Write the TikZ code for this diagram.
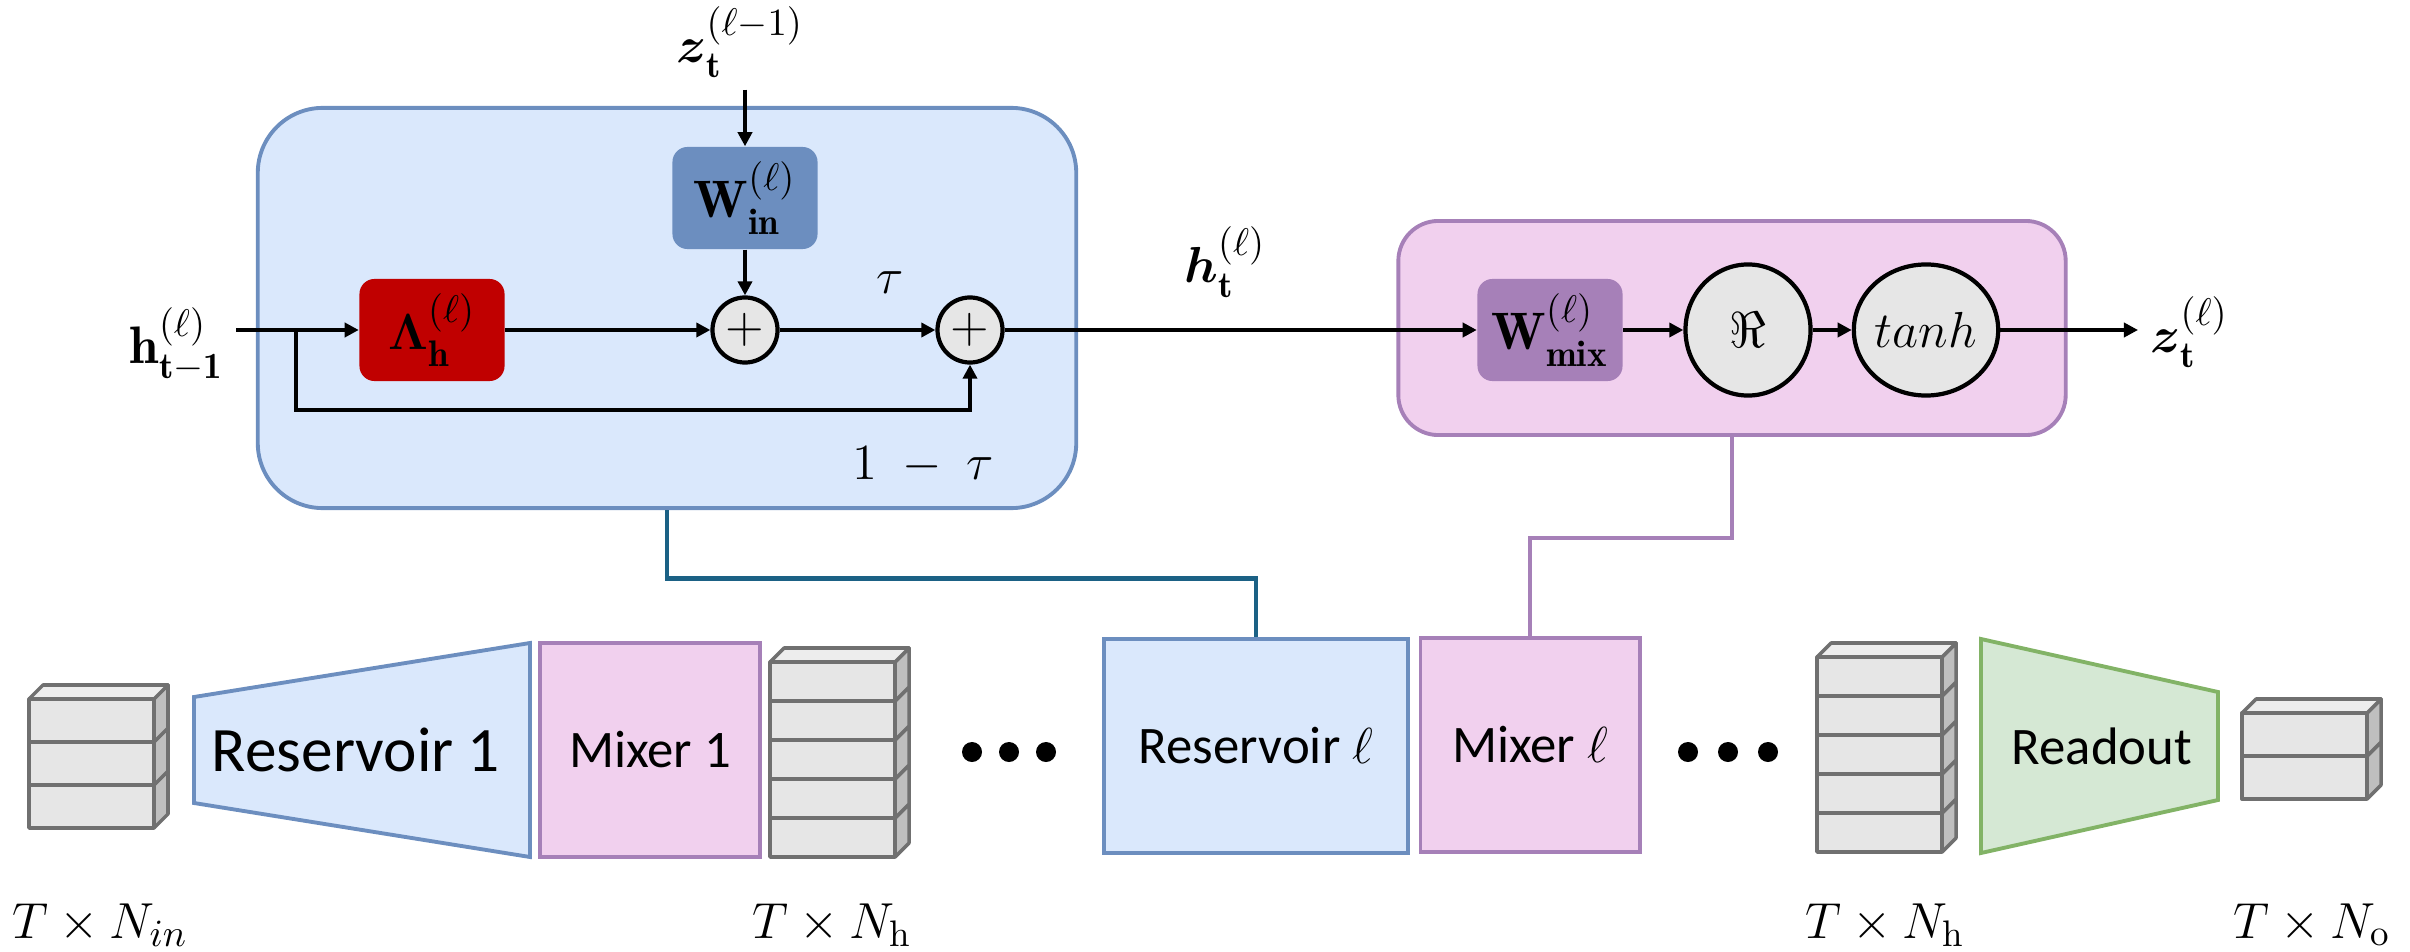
\documentclass[tikz,border=0pt]{standalone}
\usepackage{amsmath,amssymb}
\usepackage{fontspec}
\newfontfamily\calibri{Carlito}
\usetikzlibrary{arrows.meta,shapes.geometric}

\definecolor{resfill}{HTML}{DAE8FC}
\definecolor{resline}{HTML}{6C8EBF}
\definecolor{mixfill}{HTML}{F1D0EE}
\definecolor{mixline}{HTML}{A680B8}
\definecolor{lamred}{HTML}{C00000}
\definecolor{readfill}{HTML}{D5E8D4}
\definecolor{readline}{HTML}{82B366}
\definecolor{cellfill}{HTML}{E6E6E6}
\definecolor{celltop}{HTML}{EDEDED}
\definecolor{cellside}{HTML}{BFBFBF}
\definecolor{cellline}{HTML}{707070}
\definecolor{linkteal}{HTML}{1B6185}

% stack of data cells: left x, bottom y, number of cells, cell height
\newcommand{\cellstack}[4]{%
  \foreach \i in {1,...,#3}{
    \pgfmathsetmacro{\yb}{#2-(\i-1)*#4}
    \pgfmathsetmacro{\yt}{#2-\i*#4}
    \draw[cell, fill=cellside] (#1+125,\yb) -- ++(14,-14) -- (#1+139,\yt-14) -- (#1+125,\yt) -- cycle;
    \draw[cell] (#1,\yt) rectangle (#1+125,\yb);
  }
  \draw[cell, fill=celltop] (#1,#2-#3*#4) -- ++(14,-14) -- ++(125,0) -- ++(-14,14) -- cycle;
}

\begin{document}
\begin{tikzpicture}[x=0.01cm,y=-0.01cm]
    \tikzstyle{every node}=[font=\fontsize{15}{18}\selectfont]
    \tikzstyle{arr}=[-{Triangle[length=4pt,width=4pt]}, line width=1pt]
    \tikzstyle{wbox}=[rectangle, rounded corners=0.15cm, minimum width=1.45cm, minimum height=1.02cm, inner sep=0pt]
    \tikzstyle{plus}=[circle, draw, line width=1.2pt, fill=cellfill, minimum size=0.65cm, inner sep=0pt]
    \tikzstyle{act}=[ellipse, draw, line width=1.2pt, fill=cellfill, minimum width=1.25cm, minimum height=1.31cm, inner sep=0pt]
    \tikzstyle{resblock}=[rectangle, draw=resline, fill=resfill, line width=1.1pt, minimum height=2.14cm, font=\calibri\fontsize{15}{18}\selectfont]
    \tikzstyle{mixblock}=[rectangle, draw=mixline, fill=mixfill, line width=1.1pt, minimum height=2.14cm, font=\calibri\fontsize{15}{18}\selectfont]
    \tikzstyle{cell}=[draw=cellline, fill=cellfill, line width=1pt, line join=round]
    \tikzstyle{link}=[line width=1.4pt]
    \useasboundingbox (0,0) rectangle (2410,952);

    % reservoir cell
    \node[rectangle, draw=resline, fill=resfill, line width=1.1pt, rounded corners=0.65cm, minimum width=8.18cm, minimum height=4cm] (res) at (667,308) {};
    \node[wbox, fill=lamred] (lam) at (432,330) {$\boldsymbol{\Lambda}_{\mathbf{h}}^{(\ell)}$};
    \node[wbox, fill=resline] (win) at (745,198) {$\mathbf{W}_{\mathbf{in}}^{(\ell)}$};
    \node[plus] (p1) at (745,330) {$+$};
    \node[plus] (p2) at (970,330) {$+$};
    \node (tau) at (890,283) {$\tau$};
    \node (omt) at (923,465) {$1\;-\;\tau$};
    \node[anchor=east] (hprev) at (236,345) {$\mathbf{h}_{\mathbf{t-1}}^{(\ell)}$};
    \node (zprev) at (740,42) {$\boldsymbol{z}_{\mathbf{t}}^{(\ell-1)}$};
    \coordinate (br) at (296,330);

    % mixer cell
    \node[rectangle, draw=mixline, fill=mixfill, line width=1.1pt, rounded corners=0.4cm, minimum width=6.67cm, minimum height=2.14cm] (mixbox) at (1732,328) {};
    \node[wbox, fill=mixline] (wmix) at (1550,330) {$\mathbf{W}_{\mathbf{mix}}^{(\ell)}$};
    \node[act] (re) at (1748,330) {$\Re$};
    \node[act] (th) at (1926,330) {$tanh$};
    \node (hcur) at (1225,262) {$\boldsymbol{h}_{\mathbf{t}}^{(\ell)}$};
    \node[anchor=west] (zcur) at (2138,332) {$\boldsymbol{z}_{\mathbf{t}}^{(\ell)}$};

    \draw[arr] (hprev.east |- lam) -- (lam.west);
    \draw[arr] (lam.east) -- (p1.west);
    \draw[arr] (zprev.south -| win) -- (win.north);
    \draw[arr] (win.south) -- (p1.north);
    \draw[arr] (p1.east) -- (p2.west);
    \draw[arr] (br) -- ++(0,80) -| (p2.south);
    \draw[arr] (p2.east) -- (wmix.west);
    \draw[arr] (wmix.east) -- (re.west);
    \draw[arr] (re.east) -- (th.west);
    \draw[arr] (th.east) -- (th.east -| zcur.west);

    % pipeline
    \cellstack{29}{828}{3}{43}
    \draw[resline, fill=resfill, line width=1.1pt] (194,697) -- (530,643) -- (530,857) -- (194,803) -- cycle;
    \node[font=\calibri\fontsize{18}{21}\selectfont] (res1) at (356,750) {Reservoir 1};
    \node[mixblock, minimum width=2.2cm] (mix1) at (650,750) {Mixer 1};
    \cellstack{770}{857}{5}{39}
    \foreach \k in {0,1,2}
        \fill (972+37*\k,752) circle[radius=0.1cm];
    \node[resblock, minimum width=3.04cm] (resl) at (1256,746) {Reservoir $\ell$};
    \node[mixblock, minimum width=2.19cm] (mixl) at (1530,745) {Mixer $\ell$};
    \foreach \k in {0,1,2}
        \fill (1688+40*\k,752) circle[radius=0.1cm];
    \cellstack{1817}{852}{5}{39}
    \draw[readline, fill=readfill, line width=1.1pt] (1981,639) -- (2218,692) -- (2218,800) -- (1981,853) -- cycle;
    \node[font=\calibri\fontsize{15}{18}\selectfont] (readout) at (2102,746) {Readout};
    \cellstack{2242}{799}{2}{43}

    \node (nin) at (100,925) {$T\times N_{in}$};
    \node (nh1) at (832,925) {$T\times N_{\mathrm{h}}$};
    \node (nh2) at (1885,925) {$T\times N_{\mathrm{h}}$};
    \node (nout) at (2312,925) {$T\times N_{\mathrm{o}}$};

    \draw[link, linkteal] (res.south) -- ++(0,68) -| (resl.north);
    \draw[link, mixline] (mixbox.south) -- ++(0,101) -| (mixl.north);
\end{tikzpicture}
\end{document}
